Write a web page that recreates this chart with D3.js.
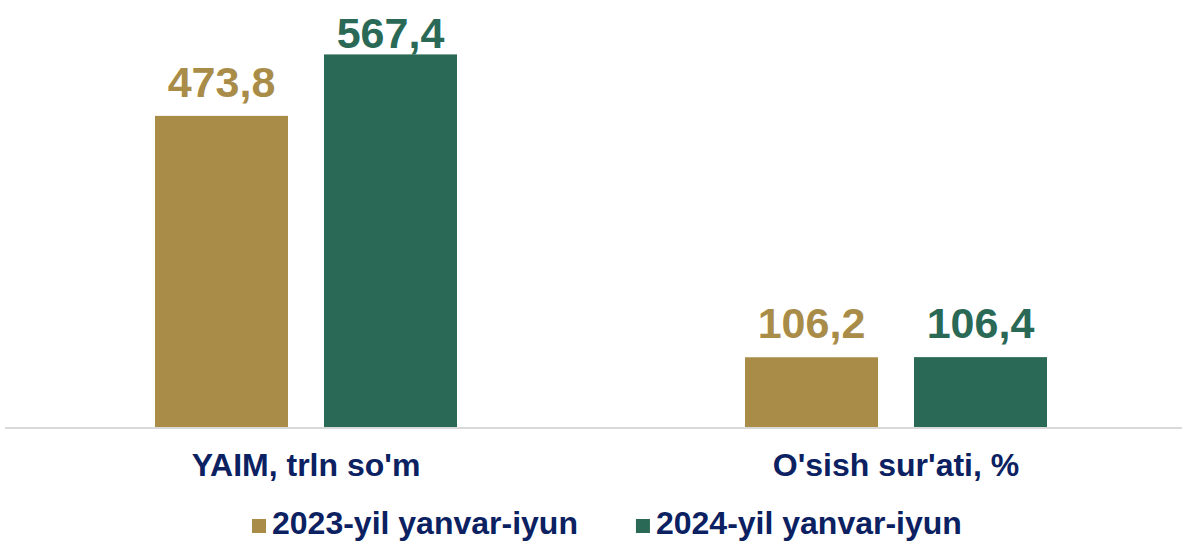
<!DOCTYPE html>
<html>
<head>
<meta charset="utf-8">
<script src="https://cdn.jsdelivr.net/npm/d3@7"></script>
<style>
  html, body { margin: 0; padding: 0; background: #fff; }
  svg { display: block; font-family: "Liberation Sans", Arial, sans-serif; }
</style>
</head>
<body>
<div id="chart"></div>
<script>
var categories = ["YAIM, trln so'm", "O'sish sur'ati, %"];
var seriesNames = ['2023-yil yanvar-iyun', '2024-yil yanvar-iyun'];
var values2023 = [473.8, 106.2];
var values2024 = [567.4, 106.4];
var colors = ['#A88C48', '#2A6955'];
var textColor = '#0B2161';

var width = 1182;
var height = 542;
var baseY = 427;

var svg = d3.select('#chart').append('svg')
  .attr('width', width)
  .attr('height', height);

var x0 = d3.scaleBand()
  .domain(categories)
  .range([11, 1191]);

var x1 = d3.scaleBand()
  .domain(seriesNames)
  .range([144, 446])
  .paddingInner(0.213);

var y = d3.scaleLinear()
  .domain([0, 600])
  .range([baseY, 33]);

var rows = [];
for (var i = 0; i < categories.length; i++){
  rows.push({cat: categories[i], series: seriesNames[0], value: values2023[i], color: colors[0]});
  rows.push({cat: categories[i], series: seriesNames[1], value: values2024[i], color: colors[1]});
}

var fmt = function(v){
  return d3.format('.1f')(v).replace('.', ',');
};

svg.selectAll('rect.bar')
  .data(rows)
  .enter()
  .append('rect')
  .attr('class', 'bar')
  .attr('x', function(d){ return x0(d.cat) + x1(d.series); })
  .attr('y', function(d){ return y(d.value); })
  .attr('width', x1.bandwidth())
  .attr('height', function(d){ return baseY - y(d.value); })
  .attr('fill', function(d){ return d.color; });

svg.selectAll('text.val')
  .data(rows)
  .enter()
  .append('text')
  .attr('class', 'val')
  .attr('x', function(d){ return x0(d.cat) + x1(d.series) + x1.bandwidth() / 2; })
  .attr('y', function(d){ return Math.max(y(d.value) - 19, 48); })
  .attr('text-anchor', 'middle')
  .attr('font-size', '43px')
  .attr('font-weight', 'bold')
  .attr('fill', function(d){ return d.color; })
  .text(function(d){ return fmt(d.value); });

// baseline
svg.append('line')
  .attr('x1', 5)
  .attr('x2', width)
  .attr('y1', baseY + 1)
  .attr('y2', baseY + 1)
  .attr('stroke', '#D9D9D9')
  .attr('stroke-width', 2);

var axis = svg.append('g')
  .attr('transform', 'translate(0,' + baseY + ')')
  .call(d3.axisBottom(x0).tickSize(0).tickPadding(26));

axis.select('.domain').remove();
axis.selectAll('text')
  .attr('font-size', '32px')
  .attr('font-weight', 'bold')
  .attr('font-family', '"Liberation Sans", Arial, sans-serif')
  .attr('fill', textColor);

// legend
var legend = svg.append('g');
var lx = 252;
seriesNames.forEach(function(name, i){
  legend.append('rect')
    .attr('x', lx)
    .attr('y', 519)
    .attr('width', 14)
    .attr('height', 14)
    .attr('fill', colors[i]);
  var t = legend.append('text')
    .attr('x', lx + 20)
    .attr('y', 534)
    .attr('font-size', '32px')
    .attr('font-weight', 'bold')
    .attr('fill', textColor)
    .text(name);
  lx += 20 + t.node().getComputedTextLength() + 58;
});
</script>
</body>
</html>
